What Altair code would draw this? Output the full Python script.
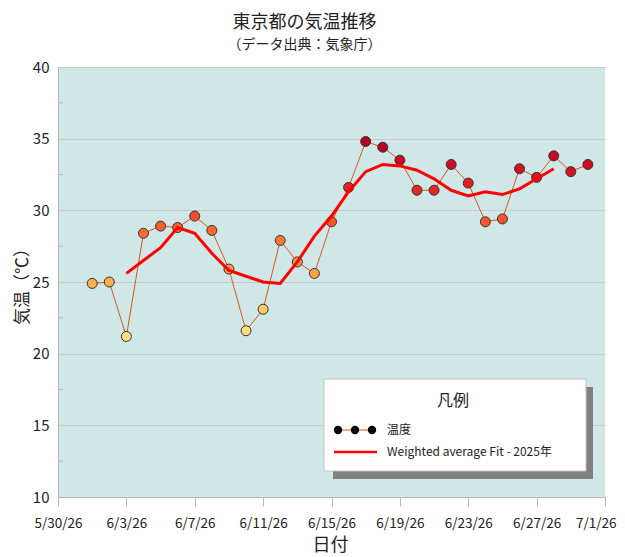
import altair as alt
import pandas as pd

# ---- data ----
dates = [f"2026-06-{d:02d}" for d in range(1, 31)]
temps = [24.9, 25.0, 21.2, 28.4, 28.9, 28.8, 29.6, 28.6, 25.9, 21.6,
         23.1, 27.9, 26.4, 25.6, 29.2, 31.6, 34.8, 34.4, 33.5, 31.4,
         31.4, 33.2, 31.9, 29.2, 29.4, 32.9, 32.3, 33.8, 32.7, 33.2]

fit_dates = [f"2026-06-{d:02d}" for d in range(3, 29)]
fit_vals = [25.6, 26.5, 27.4, 28.8, 28.4, 27.0, 25.8, 25.4, 25.0, 24.9,
            26.4, 28.2, 29.6, 31.3, 32.7, 33.2, 33.1, 32.8, 32.2, 31.4,
            31.0, 31.3, 31.1, 31.5, 32.2, 32.9]

minor_y = [12.5, 17.5, 22.5, 27.5, 32.5, 37.5]
y_ticks = [10, 15, 20, 25, 30, 35, 40]
x_tick_days = [(5, 30), (6, 3), (6, 7), (6, 11), (6, 15), (6, 19), (6, 23), (6, 27), (7, 1)]

FONT = "Noto Sans CJK JP"

df = pd.DataFrame({"date": dates, "temp": temps})
df_fit = pd.DataFrame({"date": fit_dates, "fit": fit_vals})
df_minor = pd.DataFrame({"v": minor_y})

x_scale = alt.Scale(
    type="utc",
    domain=[alt.DateTime(year=2026, month=5, date=30, utc=True),
            alt.DateTime(year=2026, month=7, date=1, utc=True)],
)
y_scale = alt.Scale(domain=[10, 40], nice=False, zero=False)

last_test = "datum.value >= utc(2026, 6, 1)"
x_axis = alt.Axis(
    title="日付",
    values=[alt.DateTime(year=2026, month=m, date=d, utc=True) for m, d in x_tick_days],
    labelExpr="utcFormat(datum.value, '%-m/%-d/%y')",
    labelOverlap=False, labelBound=False, labelFlush=False,
    labelAlign={"condition": {"test": last_test, "value": "right"}, "value": "center"},
    labelOffset={"condition": {"test": last_test, "value": 11}, "value": 0},
    grid=False, tickSize=9, tickColor="#b8b8b8", domainColor="#b8b8b8",
    labelFontSize=13.5, labelFont=FONT, labelColor="#222", labelPadding=10,
    titleFont=FONT, titleFontSize=18, titleFontWeight="normal", titleColor="#222",
    titleY=48, titleBaseline="middle", titleX=272,
)
y_axis = alt.Axis(
    title="気温（℃）",
    values=y_ticks, grid=True, gridColor="#c9c9c9", tickSize=0,
    domainColor="#b8b8b8", labelFontSize=15, labelFont=FONT, labelColor="#222",
    labelPadding=9,
    titleFont=FONT, titleFontSize=17, titleFontWeight="normal", titleColor="#222",
    titleX=-36, titleY=215, titleAngle=-90, titleAlign="center", titleBaseline="middle",
)

X = lambda f: alt.X(f"{f}:T", scale=x_scale, axis=x_axis)
Y = lambda f: alt.Y(f"{f}:Q", scale=y_scale, axis=y_axis)

base = alt.Chart(df)

line = base.mark_line(color="#d9541e", strokeWidth=1).encode(x=X("date"), y=Y("temp"))

minor = alt.Chart(df_minor).mark_rule(color="#b8b8b8", strokeWidth=1).encode(
    y=Y("v"), x=alt.value(0), x2=alt.value(5),
)

points = base.mark_circle(size=100, opacity=1, stroke="#333333", strokeWidth=1).encode(
    x=X("date"), y=Y("temp"),
    color=alt.Color("temp:Q", scale=alt.Scale(scheme="yelloworangered", domain=[21.2, 34.8]),
                    legend=None),
)

fit = alt.Chart(df_fit).mark_line(color="#ff0000", strokeWidth=3).encode(
    x=X("date"), y=Y("fit"),
)

one = alt.Data(values=[{}])
shadow = alt.Chart(one).mark_rect(color="#808080").encode(
    x=alt.value(275), x2=alt.value(535), y=alt.value(320), y2=alt.value(412))
box = alt.Chart(one).mark_rect(fill="white", stroke="#c4c4c4", strokeWidth=1).encode(
    x=alt.value(266), x2=alt.value(528), y=alt.value(312), y2=alt.value(404))
leg_title = alt.Chart(one).mark_text(text="凡例", font=FONT, fontSize=16, color="#222",
                                     align="center", baseline="middle").encode(
    x=alt.value(395), y=alt.value(334))
leg_line1 = alt.Chart(one).mark_rule(color="#d9541e", strokeWidth=1).encode(
    x=alt.value(280), x2=alt.value(314), y=alt.value(363))
leg_dots = [alt.Chart(one).mark_circle(size=70, color="black", opacity=1).encode(
    x=alt.value(px), y=alt.value(363)) for px in (280, 297, 314)]
leg_text1 = alt.Chart(one).mark_text(text="温度", font=FONT, fontSize=12, color="#222",
                                     align="left", baseline="middle").encode(
    x=alt.value(329), y=alt.value(363))
leg_line2 = alt.Chart(one).mark_rule(color="#ff0000", strokeWidth=2.5).encode(
    x=alt.value(276), x2=alt.value(319), y=alt.value(385))
leg_text2 = alt.Chart(one).mark_text(text="Weighted average Fit - 2025年", font=FONT,
                                     fontSize=12, color="#222",
                                     align="left", baseline="middle").encode(
    x=alt.value(329), y=alt.value(385))

chart = alt.layer(
    line, minor, points, fit, shadow, box, leg_title, leg_line1, *leg_dots,
    leg_text1, leg_line2, leg_text2,
).properties(
    width=547, height=430,
    title=alt.TitleParams(
        text="東京都の気温推移", subtitle="（データ出典：気象庁）",
        font=FONT, fontSize=18, fontWeight="normal", color="#222",
        subtitleFont=FONT, subtitleFontSize=14, subtitleColor="#222",
        subtitlePadding=6, anchor="middle", dx=-27, offset=8,
    ),
    autosize=alt.AutoSizeParams(type="none"),
    padding={"left": 50, "top": 59, "right": 12, "bottom": 58},
).configure_view(fill="#cfe7e7", stroke=None)

chart.save("out.html", embed_options={"renderer": "svg", "actions": False})
